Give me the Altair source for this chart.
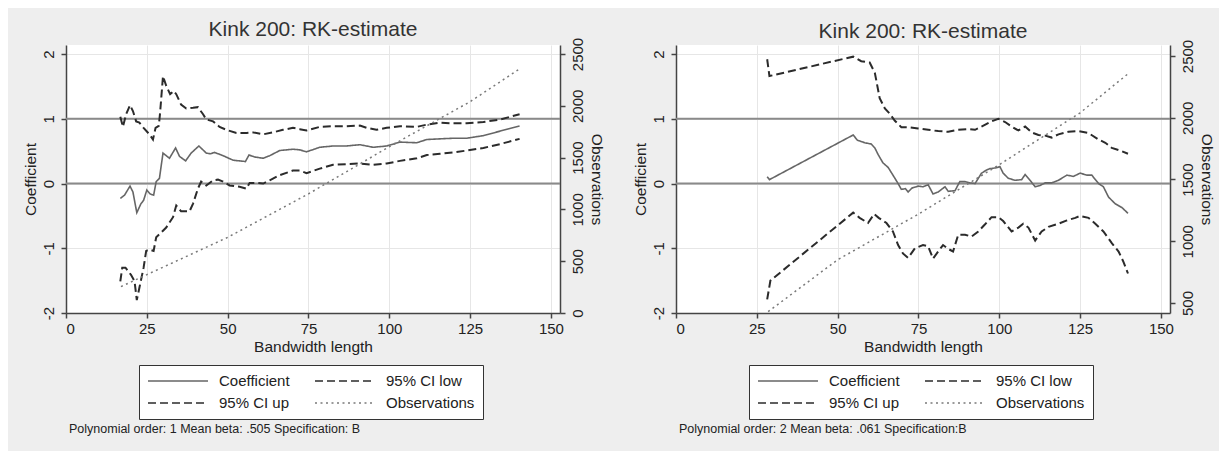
import altair as alt
import pandas as pd

# ---------------- data ----------------
# legend entries are filled column by column, so this order gives the
# rows "Coefficient | 95% CI low" and "95% CI up | Observations"
SERIES = ["Coefficient", "95% CI up", "95% CI low", "Observations"]
COLORS = ["#666666", "#2b2b2b", "#2b2b2b", "#7a7a7a"]
DASHES = [[1, 0], [8, 4], [8, 4], [2, 3.5]]

TITLE = "Kink 200: RK-estimate"
X_TICKS = [0, 25, 50, 75, 100, 125, 150]
COEF_TICKS = [-2, -1, 0, 1, 2]
REF_LINES = [0, 1]

# Left panel (polynomial order 1)
L_COEF_X = [16.8, 18.1, 19.8, 20.7, 21.9, 23.2, 24.0, 25.0, 26.0, 27.1, 27.9, 28.9, 30.0, 31.0, 32.0,
            33.9, 35.1, 37.0, 38.7, 41.1, 43.4, 44.6, 46.0, 48.6, 51.7, 53.7, 55.5, 56.6, 58.4, 61.0,
            63.0, 66.1, 70.2, 72.3, 74.4, 78.5, 82.6, 86.8, 90.9, 95.0, 99.2, 103.3, 108.5, 111.6,
            115.7, 119.8, 124.0, 129.1, 134.3, 140.3]
L_COEF_Y = [-0.23, -0.18, -0.04, -0.13, -0.45, -0.31, -0.26, -0.10, -0.16, -0.18, 0.03, 0.08, 0.47,
            0.43, 0.39, 0.55, 0.42, 0.35, 0.47, 0.58, 0.47, 0.46, 0.48, 0.43, 0.36, 0.35, 0.34, 0.44,
            0.41, 0.39, 0.43, 0.51, 0.53, 0.52, 0.49, 0.56, 0.58, 0.58, 0.60, 0.56, 0.58, 0.64, 0.63,
            0.68, 0.69, 0.70, 0.70, 0.74, 0.81, 0.89]
L_UP_X = [16.8, 17.6, 18.6, 19.8, 20.7, 21.7, 22.7, 24.0, 25.8, 26.9, 27.7, 28.7, 29.1, 30.0, 31.0,
          32.2, 33.3, 34.1, 35.6, 37.2, 39.3, 40.8, 42.4, 43.4, 45.5, 47.5, 49.6, 52.7, 55.8, 57.9,
          61.0, 64.0, 67.1, 70.2, 72.3, 74.4, 78.5, 82.6, 86.8, 90.9, 93.0, 96.0, 99.2, 103.3, 108.5,
          111.6, 115.7, 119.8, 124.0, 129.1, 134.3, 140.3]
L_UP_Y = [1.03, 0.875, 1.07, 1.21, 1.12, 0.96, 0.94, 0.86, 0.76, 0.68, 0.86, 0.89, 1.09, 1.66, 1.51,
          1.38, 1.43, 1.38, 1.22, 1.16, 1.17, 1.18, 1.07, 0.99, 0.96, 0.875, 0.83, 0.78, 0.78, 0.79,
          0.76, 0.79, 0.83, 0.86, 0.84, 0.82, 0.875, 0.885, 0.885, 0.895, 0.86, 0.83, 0.86, 0.885,
          0.875, 0.91, 0.94, 0.93, 0.93, 0.95, 0.99, 1.07]
L_LOW_X = [16.8, 17.4, 18.4, 20.1, 21.2, 21.9, 22.7, 24.0, 24.8, 25.8, 27.1, 27.9, 29.4, 31.0, 33.1,
           34.1, 35.6, 38.2, 39.3, 40.8, 41.8, 43.4, 45.5, 47.0, 48.6, 50.6, 53.7, 55.8, 56.8, 58.9,
           61.0, 63.0, 66.1, 70.2, 72.3, 74.4, 78.5, 82.6, 86.8, 90.9, 95.0, 99.2, 103.3, 108.5,
           111.6, 115.7, 119.8, 124.0, 129.1, 134.3, 140.3]
L_LOW_Y = [-1.51, -1.30, -1.30, -1.41, -1.51, -1.80, -1.61, -1.30, -1.04, -1.02, -1.04, -0.83, -0.76,
           -0.68, -0.52, -0.34, -0.43, -0.43, -0.31, -0.08, 0.03, -0.03, 0.05, 0.06, 0.03, -0.03,
           -0.05, -0.08, 0.01, 0.01, 0.0, 0.05, 0.13, 0.20, 0.20, 0.16, 0.23, 0.29, 0.30, 0.31, 0.29,
           0.31, 0.35, 0.39, 0.44, 0.46, 0.48, 0.51, 0.55, 0.61, 0.69]
L_OBS_X = [17, 25, 50, 75, 100, 125, 140]
L_OBS_Y = [255, 370, 730, 1150, 1605, 2040, 2350]
L_OBS_DOMAIN = [0, 2587]
L_OBS_TICKS = [0, 500, 1000, 1500, 2000, 2500]
L_NOTE = "Polynomial order: 1 Mean beta: .505 Specification: B"

# Right panel (polynomial order 2)
R_COEF_X = [28.2, 28.9, 54.8, 56.1, 58.4, 60.4, 61.5, 62.5, 64.0, 65.6, 67.1, 68.7, 69.7, 71.0, 71.8,
            73.0, 74.9, 76.4, 78.0, 79.5, 81.1, 83.2, 84.2, 86.3, 87.8, 89.4, 90.9, 92.5, 94.5, 96.1,
            97.1, 98.7, 100.2, 101.2, 102.8, 104.9, 106.9, 108.0, 109.5, 111.1, 112.6, 114.2, 116.2,
            118.3, 120.9, 122.9, 125.0, 127.1, 128.6, 130.7, 132.2, 133.8, 135.8, 137.9, 139.8]
R_COEF_Y = [0.105, 0.06, 0.75, 0.67, 0.63, 0.61, 0.55, 0.45, 0.32, 0.25, 0.13, 0.0, -0.09, -0.08,
            -0.13, -0.07, -0.04, -0.05, -0.02, -0.16, -0.13, -0.05, -0.12, -0.11, 0.03, 0.03, 0.01,
            0.0, 0.16, 0.21, 0.23, 0.24, 0.26, 0.16, 0.08, 0.05, 0.06, 0.14, 0.05, -0.05, -0.03, 0.01,
            0.01, 0.05, 0.13, 0.11, 0.16, 0.13, 0.13, 0.0, -0.05, -0.21, -0.31, -0.37, -0.46]
R_UP_X = [28.2, 28.9, 54.8, 57.3, 59.9, 61.5, 63.0, 64.6, 66.1, 67.7, 69.7, 71.8, 74.9, 78.0, 81.1,
          84.2, 87.3, 90.4, 92.5, 94.5, 97.6, 99.7, 101.8, 103.8, 105.9, 108.0, 110.0, 112.1, 114.2,
          116.2, 118.3, 121.4, 124.5, 127.6, 130.7, 132.8, 134.8, 137.9, 139.8]
R_UP_Y = [1.92, 1.66, 1.96, 1.89, 1.87, 1.71, 1.32, 1.16, 1.08, 0.97, 0.87, 0.87, 0.85, 0.83, 0.81,
          0.80, 0.83, 0.84, 0.83, 0.88, 0.96, 1.0, 0.95, 0.88, 0.82, 0.88, 0.79, 0.75, 0.74, 0.71,
          0.76, 0.80, 0.81, 0.78, 0.68, 0.63, 0.55, 0.50, 0.46]
R_LOW_X = [28.2, 29.2, 54.8, 56.8, 59.4, 61.3, 62.7, 65.1, 67.1, 68.7, 70.2, 71.8, 73.9, 76.4, 78.0,
           79.5, 81.1, 82.6, 84.2, 85.7, 87.3, 89.4, 91.4, 93.5, 95.6, 97.6, 99.7, 101.2, 103.8,
           105.9, 107.4, 109.0, 111.1, 113.1, 115.2, 118.3, 120.9, 123.5, 125.0, 127.6, 129.7,
           132.2, 134.8, 136.9, 138.4, 139.8]
R_LOW_Y = [-1.79, -1.50, -0.45, -0.53, -0.61, -0.47, -0.53, -0.61, -0.74, -0.95, -1.08, -1.15, -1.0,
           -0.95, -0.97, -1.16, -1.05, -0.95, -1.01, -1.05, -0.79, -0.79, -0.82, -0.74, -0.63, -0.52,
           -0.52, -0.58, -0.74, -0.68, -0.62, -0.68, -0.88, -0.74, -0.67, -0.62, -0.57, -0.53, -0.50,
           -0.53, -0.62, -0.74, -0.92, -1.05, -1.21, -1.39]
R_OBS_X = [28.5, 50, 75, 100, 125, 140]
R_OBS_Y = [430, 850, 1220, 1620, 2040, 2360]
R_OBS_DOMAIN = [419, 2589]
R_OBS_TICKS = [500, 1000, 1500, 2000, 2500]
R_NOTE = "Polynomial order: 2 Mean beta: .061 Specification:B"

# ---------------- layout / style ----------------
FONT = "Liberation Sans"
W, H = 494, 268
X_DOMAIN = [0, 152.8]
COEF_DOMAIN = [-2, 2.14]
TEXT = "#222222"
AXIS = "#444444"
GRID = "#e6e6e6"


def legend():
    return alt.Legend(
        title=None, orient="none", legendX=73, legendY=320, columns=2,
        symbolType="stroke", symbolSize=3600, symbolStrokeWidth=1.5, clipHeight=16,
        labelFont=FONT, labelFontSize=15, labelColor=TEXT, labelOffset=10, labelLimit=0,
        labelAlign="left", gridAlign="each",
        columnPadding=24, rowPadding=6, padding=8,
        strokeColor="#333333", fillColor="white", cornerRadius=0,
    )


def panel(cx, cy, ux, uy, lx, ly, ox, oy, obs_domain, obs_ticks, note):
    cdf = pd.DataFrame({"bw": cx, "val": cy, "series": ["Coefficient"] * len(cx)})
    rows = []
    for name, xs, ys in [("95% CI low", lx, ly), ("95% CI up", ux, uy)]:
        rows += [{"bw": a, "val": b, "series": name} for a, b in zip(xs, ys)]
    cidf = pd.DataFrame(rows)
    odf = pd.DataFrame({"bw": ox, "obs": oy, "series": ["Observations"] * len(ox)})
    ref = pd.DataFrame({"ref": REF_LINES})
    notes = pd.DataFrame({"note": [note]})

    x = alt.X(
        "bw:Q",
        scale=alt.Scale(domain=X_DOMAIN, nice=False, zero=False),
        axis=alt.Axis(
            values=X_TICKS, title="Bandwidth length", format="d", grid=True, gridColor=GRID,
            domainColor=AXIS, domainWidth=1.5, tickColor=AXIS, tickWidth=1.5, tickSize=5,
            labelFont=FONT, labelFontSize=15, labelColor=TEXT, labelPadding=3,
            titleFont=FONT, titleFontSize=15.5, titleFontWeight="normal", titleColor=TEXT,
            titlePadding=3,
        ),
    )
    color = alt.Color("series:N", scale=alt.Scale(domain=SERIES, range=COLORS), legend=legend())
    dash = alt.StrokeDash("series:N", scale=alt.Scale(domain=SERIES, range=DASHES), legend=legend())
    coef_scale = alt.Scale(domain=COEF_DOMAIN, nice=False, zero=False)
    coef_y = alt.Y(
        "val:Q", scale=coef_scale,
        axis=alt.Axis(
            values=COEF_TICKS, title="Coefficient", labelExpr="toString(datum.value)",
            grid=True, gridColor=GRID,
            labelAngle=270, labelAlign="center", labelBaseline="bottom",
            domainColor=AXIS, domainWidth=1.5, tickColor=AXIS, tickWidth=1.5, tickSize=5,
            labelFont=FONT, labelFontSize=15, labelColor=TEXT, labelPadding=5,
            titleFont=FONT, titleFontSize=15.5, titleFontWeight="normal", titleColor=TEXT,
            titlePadding=3,
        ),
    )

    rules = alt.Chart(ref).mark_rule(color="#8a8a8a", strokeWidth=2).encode(
        y=alt.Y("ref:Q", scale=coef_scale, axis=None)
    )
    coef = alt.Chart(cdf).mark_line(strokeWidth=1.6).encode(
        x=x, y=coef_y, color=color, strokeDash=dash
    )
    cis = alt.Chart(cidf).mark_line(strokeWidth=2.0).encode(
        x=x, y=alt.Y("val:Q", scale=coef_scale, axis=None), color=color, strokeDash=dash
    )
    obs = alt.Chart(odf).mark_line(strokeWidth=1.5).encode(
        x=x,
        y=alt.Y(
            "obs:Q", scale=alt.Scale(domain=obs_domain, nice=False, zero=False),
            axis=alt.Axis(
                orient="right", values=obs_ticks, title="Observations", format="d", grid=False,
                labelAngle=270, labelAlign="center", labelBaseline="top",
                domainColor=AXIS, domainWidth=1.5, tickColor=AXIS, tickWidth=1.5, tickSize=5,
                labelFont=FONT, labelFontSize=15, labelColor=TEXT, labelPadding=5,
                titleFont=FONT, titleFontSize=15.5, titleFontWeight="normal", titleColor=TEXT,
                titlePadding=3,
            ),
        ),
        color=color, strokeDash=dash,
    )
    foot = alt.Chart(notes).mark_text(
        align="left", baseline="middle", font=FONT, fontSize=12.5, color=TEXT
    ).encode(x=alt.value(3), y=alt.value(384), text="note:N")

    return alt.layer(rules, coef, cis, obs, foot).resolve_scale(y="independent").properties(
        width=W, height=H,
        title=alt.Title(TITLE, font=FONT, fontSize=21, fontWeight="normal", color="#333333",
                        anchor="middle", frame="group", offset=-3),
    )


left = panel(L_COEF_X, L_COEF_Y, L_UP_X, L_UP_Y, L_LOW_X, L_LOW_Y, L_OBS_X, L_OBS_Y,
             L_OBS_DOMAIN, L_OBS_TICKS, L_NOTE)
right = panel(R_COEF_X, R_COEF_Y, R_UP_X, R_UP_Y, R_LOW_X, R_LOW_Y, R_OBS_X, R_OBS_Y,
              R_OBS_DOMAIN, R_OBS_TICKS, R_NOTE)

chart = alt.hconcat(left, right, spacing=116, bounds="flush").resolve_scale(
    x="independent", color="independent", strokeDash="independent"
).properties(
    background="#eeeeee",
    padding={"left": 15, "top": 11, "right": 6, "bottom": 15},
).configure_view(fill="white", strokeWidth=0)

chart.save("out.html", embed_options={"renderer": "svg", "actions": False})
